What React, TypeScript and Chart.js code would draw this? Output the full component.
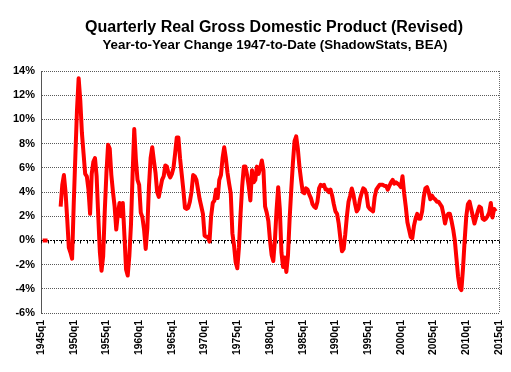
import React, { useEffect, useRef } from 'react';
import { Chart, registerables } from 'chart.js';

Chart.register(...registerables);

const TITLE = 'Quarterly Real Gross Domestic Product (Revised)';
const SUBTITLE = 'Year-to-Year Change 1947-to-Date (ShadowStats, BEA)';

const FIRST_YEAR = 1945;
const LAST_YEAR = 2015;
const LABEL_EVERY = 20; // every 5 years

const quarterLabels: string[] = [];
for (let y = FIRST_YEAR; y <= LAST_YEAR; y++) {
  for (let q = 1; q <= 4; q++) {
    if (y === LAST_YEAR && q > 1) break;
    quarterLabels.push(`${y}q${q}`);
  }
}

const Y_MIN = -6;
const Y_MAX = 14;
const Y_STEP = 2;

// Year-to-year % change, one value per quarter starting 1945q1
const gdpYoY: (number | null)[] = [
  null, 0, 0, 0, // 1945
  0, null, null, null, // 1946
  null, null, null, null, // 1947
  2.8, 4.6, 5.4, 4.0, // 1948
  1.8, -0.6, -1.0, -1.5, // 1949
  3.0, 7.0, 10.8, 13.4, // 1950
  11.6, 8.9, 7.2, 5.5, // 1951
  5.3, 4.2, 2.2, 5.5, // 1952
  6.5, 6.8, 5.3, 2.0, // 1953
  -1.0, -2.5, -1.3, 2.5, // 1954
  5.6, 7.9, 7.6, 5.4, // 1955
  4.0, 2.8, 0.9, 2.2, // 1956
  3.1, 2.0, 3.1, 0.4, // 1957
  -2.4, -2.9, -1.3, 1.3, // 1958
  5.5, 9.2, 6.7, 5.0, // 1959
  4.6, 2.3, 1.9, 0.9, // 1960
  -0.7, 1.0, 4.5, 6.8, // 1961
  7.7, 6.6, 5.6, 4.0, // 1962
  3.6, 4.3, 5.0, 5.3, // 1963
  6.2, 6.1, 5.5, 5.2, // 1964
  5.5, 6.0, 7.2, 8.5, // 1965
  8.5, 6.8, 5.5, 4.2, // 1966
  2.7, 2.6, 2.7, 3.2, // 1967
  4.0, 5.4, 5.3, 5.0, // 1968
  4.2, 3.4, 2.8, 2.2, // 1969
  0.4, 0.3, 0.3, -0.1, // 1970
  2.0, 3.1, 3.3, 4.2, // 1971
  3.5, 5.0, 5.4, 6.8, // 1972
  7.7, 6.8, 5.6, 4.7, // 1973
  3.9, 0.6, -0.4, -1.8, // 1974
  -2.3, -0.6, 2.2, 4.5, // 1975
  6.1, 6.1, 5.4, 4.5, // 1976
  3.3, 5.8, 4.8, 5.0, // 1977
  6.1, 5.5, 6.0, 6.6, // 1978
  5.8, 2.8, 2.3, 1.6, // 1979
  0.0, -1.2, -1.7, 0.0, // 1980
  2.5, 4.4, 2.6, -1.0, // 1981
  -2.2, -1.4, -2.6, -1.2, // 1982
  1.8, 4.2, 6.4, 8.2, // 1983
  8.6, 7.6, 6.1, 5.0, // 1984
  4.0, 3.9, 4.3, 4.2, // 1985
  3.8, 3.5, 3.0, 2.8, // 1986
  2.7, 3.2, 4.3, 4.6, // 1987
  4.5, 4.6, 4.2, 4.2, // 1988
  4.0, 4.2, 3.7, 3.0, // 1989
  2.4, 2.2, 1.4, 0.2, // 1990
  -0.9, -0.7, 0.5, 2.0, // 1991
  3.2, 3.7, 4.3, 3.8, // 1992
  3.0, 2.4, 2.6, 3.4, // 1993
  3.9, 4.3, 4.2, 3.8, // 1994
  2.8, 2.6, 2.5, 2.4, // 1995
  3.6, 4.2, 4.4, 4.6, // 1996
  4.6, 4.6, 4.5, 4.5, // 1997
  4.2, 4.5, 4.8, 5.0, // 1998
  4.7, 4.8, 4.7, 4.6, // 1999
  4.4, 5.3, 3.9, 2.8, // 2000
  1.5, 0.9, 0.3, 0.2, // 2001
  1.2, 1.8, 2.2, 1.8, // 2002
  1.8, 2.4, 3.6, 4.3, // 2003
  4.4, 4.0, 3.4, 3.7, // 2004
  3.5, 3.4, 3.2, 3.2, // 2005
  3.0, 2.8, 2.2, 1.4, // 2006
  2.0, 2.2, 2.2, 1.6, // 2007
  0.9, 0.0, -1.5, -3.0, // 2008
  -3.9, -4.1, -2.3, 0.0, // 2009
  2.0, 3.0, 3.2, 2.6, // 2010
  2.0, 1.4, 1.9, 2.4, // 2011
  2.8, 2.7, 1.8, 1.7, // 2012
  1.8, 2.0, 2.3, 3.1, // 2013
  1.9, 2.6, 2.4, // 2014
];

const FONT = '"Liberation Sans", Arial, sans-serif';

const decorPlugin = {
  id: 'decor',
  beforeDatasetsDraw(chart: any) {
    const { ctx, chartArea, scales } = chart;
    const y0 = Math.round(scales.y.getPixelForValue(0)) + 0.5;
    ctx.save();
    // right plot border (dotted gray)
    ctx.strokeStyle = '#6a6a6a';
    ctx.lineWidth = 1;
    ctx.setLineDash([1, 1]);
    const xr = Math.round(chartArea.right) + 0.5;
    ctx.beginPath();
    ctx.moveTo(xr, chartArea.top);
    ctx.lineTo(xr, chartArea.bottom);
    ctx.stroke();
    // zero axis line (black dotted) with tick marks every year
    ctx.strokeStyle = '#000';
    ctx.setLineDash([2, 1]);
    ctx.beginPath();
    ctx.moveTo(chartArea.left, y0);
    ctx.lineTo(chartArea.right, y0);
    ctx.stroke();
    ctx.setLineDash([]);
    ctx.beginPath();
    for (let i = 0; i < quarterLabels.length; i += 4) {
      const x = Math.round(scales.x.getPixelForValue(i)) + 0.5;
      ctx.moveTo(x, y0);
      ctx.lineTo(x, y0 + 3);
    }
    ctx.stroke();
    ctx.restore();
  },
  afterDraw(chart: any) {
    const { ctx, chartArea } = chart;
    const cx = (chartArea.left + chartArea.right) / 2 + 4;
    ctx.save();
    ctx.fillStyle = '#000';
    ctx.textAlign = 'center';
    ctx.textBaseline = 'alphabetic';
    ctx.font = `bold 16px ${FONT}`;
    ctx.fillText(TITLE, cx, 32);
    ctx.font = `bold 13.3px ${FONT}`;
    ctx.fillText(SUBTITLE, cx + 1, 48.5);
    ctx.restore();
  },
};

export default function App() {
  const canvasRef = useRef<HTMLCanvasElement | null>(null);

  useEffect(() => {
    if (!canvasRef.current) return;
    Chart.defaults.font.family = FONT;
    Chart.defaults.color = '#000';
    const chart = new Chart(canvasRef.current, {
      type: 'line',
      data: {
        labels: quarterLabels,
        datasets: [
          {
            data: gdpYoY,
            borderColor: '#ff0000',
            backgroundColor: '#ff0000',
            borderWidth: 4,
            pointRadius: 0,
            pointHoverRadius: 0,
            fill: false,
            tension: 0,
            spanGaps: false,
            borderJoinStyle: 'round',
          },
        ],
      },
      options: {
        responsive: false,
        animation: false,
        events: [],
        layout: { padding: { top: 71, left: 7, right: 12, bottom: 10 } },
        plugins: {
          legend: { display: false },
          tooltip: { enabled: false },
          title: { display: false },
        },
        scales: {
          x: {
            type: 'category',
            offset: false,
            grid: { display: false, drawTicks: false },
            border: { display: false },
            afterFit: (scale: any) => {
              scale.paddingLeft = 0;
              scale.paddingRight = 0;
            },
            ticks: {
              autoSkip: false,
              minRotation: 90,
              maxRotation: 90,
              padding: 7,
              font: { size: 10.3, weight: 'bold', family: FONT },
              color: '#000',
              callback: (_v: any, i: number) =>
                i % LABEL_EVERY === 0 ? quarterLabels[i] : null,
            },
          },
          y: {
            min: Y_MIN,
            max: Y_MAX,
            grid: {
              drawTicks: false,
              color: (c: any) => (c.tick && c.tick.value === 0 ? 'rgba(0,0,0,0)' : '#5a5a5a'),
              lineWidth: 1,
            },
            border: { display: true, color: '#555', width: 1, dash: [1, 1] },
            ticks: {
              stepSize: Y_STEP,
              padding: 6,
              font: { size: 11, weight: 'bold', family: FONT },
              color: '#000',
              callback: (v: any) => `${v}%`,
            },
          },
        },
      },
      plugins: [decorPlugin],
    });
    return () => chart.destroy();
  }, []);

  return (
    <div style={{ position: 'absolute', left: 0, top: 0, width: 511, height: 372, background: '#fff' }}>
      <canvas ref={canvasRef} width={511} height={372} style={{ display: 'block' }} />
    </div>
  );
}
